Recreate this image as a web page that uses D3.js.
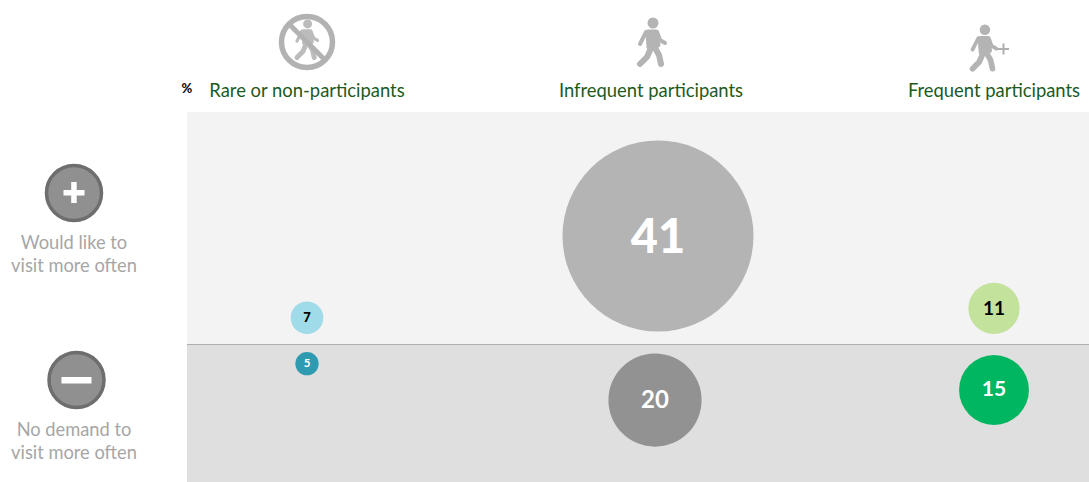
<!DOCTYPE html>
<html><head><meta charset="utf-8">
<script src="https://cdnjs.cloudflare.com/ajax/libs/d3/7.8.5/d3.min.js"></script>
<style>html,body{margin:0;padding:0;background:#fff}svg{display:block}text{font-family:Lato,"Open Sans",sans-serif}</style>
</head><body><svg id="c" width="1089" height="482"></svg>
<script>
const categories = ["Rare or non-participants","Infrequent participants","Frequent participants"];
const rowLabels = [["Would like to","visit more often"],["No demand to","visit more often"]];
const wouldLike = [7,41,11];
const noDemand = [5,20,15];
const unitLabel = "%";

const W=1089,H=482;
const svg=d3.select("#c").attr("viewBox",[0,0,W,H]);
const defs=svg.append("defs");
defs.append("filter").attr("id","soft").attr("x","-30%").attr("y","-30%").attr("width","160%").attr("height","160%")
  .append("feGaussianBlur").attr("stdDeviation",0.7);

const x=d3.scalePoint().domain(categories).range([307,994]);
const divide=344;
const r=d3.scaleLinear().domain([0,41]).range([0,95.5]);
const inkUp=["#9fdbe8","#b4b4b4","#c3e29c"], inkDown=["#2f9bb0","#929292","#00b660"];
const labelUp=["#000","#fff","#000"], labelDown=["#fff","#fff","#fff"];
const fsUp=[13,47,19], fsDown=[11.5,24,21];
const weightUp=[900,900,700], weightDown=[700,700,700];
const gapUp=[10,12.5,10], gapDown=[8,9.5,11];
const shiftUp=[0,7.5,0], shiftDown=[0,4.5,0];

svg.append("rect").attr("x",187).attr("y",112).attr("width",W-187).attr("height",divide-112).attr("fill","#f3f3f3");
svg.append("rect").attr("x",187).attr("y",divide).attr("width",W-187).attr("height",H-divide).attr("fill","#dfdfdf");
svg.append("line").attr("x1",187).attr("x2",W).attr("y1",divide+.5).attr("y2",divide+.5).attr("stroke","#aeaeae").attr("stroke-width",1);

function row(vals,dir,ink,lab,fs,gap,shift,weight,dy){
  const g=svg.append("g").selectAll("g").data(vals).join("g")
    .attr("transform",(d,i)=>`translate(${x(categories[i])+shift[i]},${divide+dir*(gap[i]+r(d))})`);
  g.append("circle").attr("r",d=>r(d)).attr("fill",(d,i)=>ink[i]);
  g.append("text").text(d=>d).attr("text-anchor","middle").attr("dy",dy)
   .attr("font-weight",(d,i)=>weight[i]).attr("font-size",(d,i)=>fs[i]).attr("fill",(d,i)=>lab[i]);
}
row(wouldLike,-1,inkUp,labelUp,fsUp,gapUp,shiftUp,weightUp,"0.36em");
row(noDemand,1,inkDown,labelDown,fsDown,gapDown,shiftDown,weightDown,"0.31em");

// column headers
const headX=[307,651,994];
svg.append("g").selectAll("text").data(categories).join("text")
 .attr("x",(d,i)=>headX[i]).attr("y",97).attr("text-anchor","middle")
 .attr("font-size",18.4).attr("fill","#1d5a1d").text(d=>d);
svg.append("text").attr("x",187).attr("y",93).attr("text-anchor","middle").attr("font-size",13).attr("font-weight",900).attr("fill","#111").text(unitLabel);

// walker pictogram
function walker(cx,top,s,col){
  const g=svg.append("g").attr("transform",`translate(${cx},${top}) scale(${s})`).attr("filter","url(#soft)")
    .attr("fill","none").attr("stroke",col).attr("stroke-linecap","round").attr("stroke-linejoin","round");
  g.append("circle").attr("cx",2).attr("cy",6).attr("r",5.5).attr("fill",col).attr("stroke","none");
  g.append("path").attr("d","M-3 15 L5 15 L7 28 L-2 30 Z").attr("fill",col).attr("stroke-width",5);
  g.append("path").attr("d","M-5 15 L-11 27").attr("stroke-width",4);
  g.append("path").attr("d","M6 15 L9 23 L14 26").attr("stroke-width",4);
  g.append("path").attr("d","M0 31 L-4 40 L-11 47").attr("stroke-width",6);
  g.append("path").attr("d","M4 31 L8 38 L10 47").attr("stroke-width",6);
  return g;
}
walker(651,17,1,"#b4b4b4");
walker(983,24,.95,"#b4b4b4");
const plus=svg.append("g").attr("stroke","#b0b0b0").attr("stroke-width",2);
plus.append("line").attr("x1",998).attr("x2",1009).attr("y1",49).attr("y2",49);
plus.append("line").attr("x1",1003.5).attr("x2",1003.5).attr("y1",43.5).attr("y2",54.5);

// no-participation sign
walker(306,19,.82,"#bcbcbc");
svg.append("circle").attr("cx",307).attr("cy",42).attr("r",25.5).attr("fill","none").attr("stroke","#b2b2b2").attr("stroke-width",5.5);
svg.append("line").attr("x1",289).attr("y1",24).attr("x2",325).attr("y2",60).attr("stroke","#b2b2b2").attr("stroke-width",5);

// row badges
const badges=[{cx:74,cy:193,t:"+"},{cx:76.5,cy:380,t:"-"}];
const bg=svg.append("g").selectAll("g").data(badges).join("g").attr("transform",d=>`translate(${d.cx},${d.cy})`);
bg.append("circle").attr("r",27.5).attr("fill","#909090").attr("stroke","#6e6e6e").attr("stroke-width",3.5);
bg.append("rect").attr("x",d=>d.t=="+"?-10.5:-15).attr("y",-3).attr("width",d=>d.t=="+"?21:30).attr("height",d=>d.t=="+"?5.5:6.5).attr("fill","#fff");
bg.filter(d=>d.t=="+").append("rect").attr("x",-2.8).attr("y",-11).attr("width",5.5).attr("height",21).attr("fill","#fff");

const rowY=[[243,266],[430,453]];
rowLabels.forEach((ls,i)=>ls.forEach((l,j)=>{
  svg.append("text").attr("x",74).attr("y",rowY[i][j]+6).attr("text-anchor","middle").attr("font-size",18.3).attr("fill","#a6a6a6").text(l);
}));
</script></body></html>
